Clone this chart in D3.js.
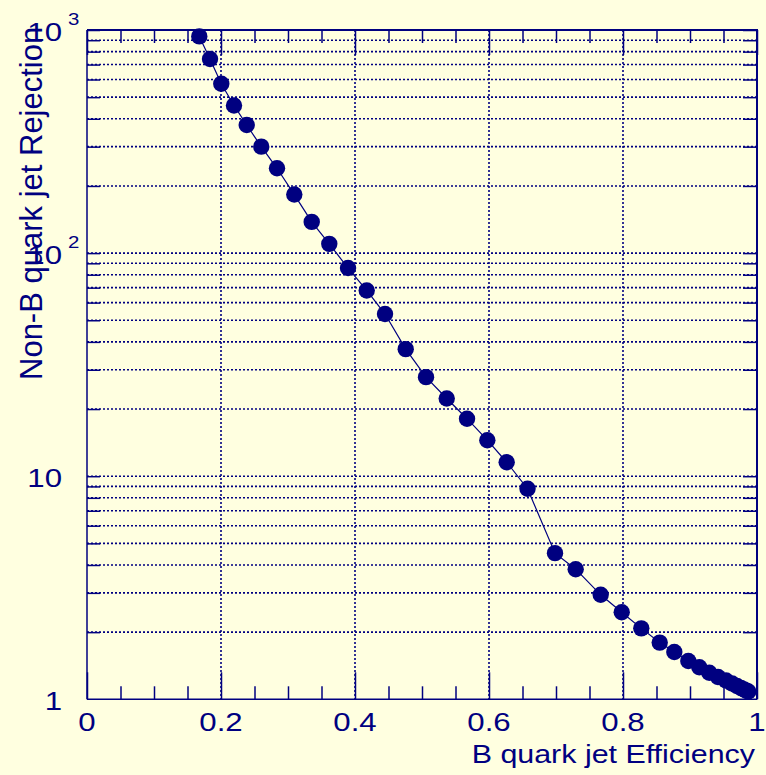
<!DOCTYPE html>
<html>
<head>
<meta charset="utf-8">
<script src="https://cdn.jsdelivr.net/npm/d3@7"></script>
<style>
  html, body { margin: 0; padding: 0; background: #ffffe0; }
  svg { display: block; }
  text { font-family: "Liberation Sans", Arial, Helvetica, sans-serif; fill: #000080; }
</style>
</head>
<body>
<svg id="chart" width="766" height="775"></svg>
<script>
// ---- data ----
const efficiency = [0.1676, 0.1836, 0.2004, 0.2194, 0.2384, 0.2601, 0.2836, 0.3094, 0.3354, 0.3616,
  0.3896, 0.4175, 0.4448, 0.4757, 0.5060, 0.5369, 0.5672, 0.5975, 0.6264, 0.6575,
  0.6985, 0.7294, 0.7667, 0.7981, 0.8273, 0.8548, 0.8766, 0.8975, 0.9139, 0.9288,
  0.9418, 0.9537, 0.9627, 0.9700, 0.9760, 0.9806, 0.9843, 0.9870];
const rejection = [936, 741, 574, 459, 375, 300, 240, 183, 138, 110,
  85.7, 68, 53.3, 37.1, 27.8, 22.3, 18.1, 14.5, 11.55, 8.79,
  4.52, 3.83, 2.94, 2.455, 2.08, 1.795, 1.63, 1.485, 1.392, 1.316,
  1.259, 1.214, 1.177, 1.147, 1.124, 1.106, 1.093, 1.084];
const xMajorTicks = [0, 0.2, 0.4, 0.6, 0.8, 1];
const xTickLabels = ["0", "0.2", "0.4", "0.6", "0.8", "1"];
const yMajorTicks = [1, 10, 100, 1000];
const yTickBase = ["1", "10", "10", "10"];
const yTickExp = ["", "", "2", "3"];
const xTitle = "B quark jet Efficiency";
const yTitle = "Non-B quark jet Rejection";

// ---- layout ----
const col = "#000080";
const L = 87, R = 757, T = 30, B = 699.3;
const svg = d3.select("#chart");
svg.append("rect").attr("width", 766).attr("height", 775).attr("fill", "#ffffe0");

const x = d3.scaleLinear().domain([0, 1]).range([L, R]);
const y = d3.scaleLog().domain([1, 1000]).range([B, T]);

const xMinor = d3.range(0, 21).map(i => i * 0.05).filter(v => !xMajorTicks.some(m => Math.abs(m - v) < 1e-9));
const yMinor = [];
[1, 10, 100].forEach(d => { for (let k = 2; k <= 9; k++) yMinor.push(d * k); });
const yAllTicks = yMinor.concat([10, 100]);

// grid (dotted)
const grid = svg.append("g").attr("stroke", col).attr("stroke-width", 1.6).attr("stroke-dasharray", "2,2");
grid.selectAll("line.gx").data([0.2, 0.4, 0.6, 0.8]).join("line")
  .attr("x1", d => x(d)).attr("x2", d => x(d)).attr("y1", T).attr("y2", B);
grid.selectAll("line.gy").data(yAllTicks).join("line")
  .attr("x1", L).attr("x2", R).attr("y1", d => y(d)).attr("y2", d => y(d));

// axes with inward ticks
function styleAxis(g) {
  g.select(".domain").remove();
  g.selectAll(".tick line").attr("stroke", col).attr("stroke-width", 1.5);
  g.selectAll(".tick text").remove();
}
svg.append("g").attr("transform", `translate(0,${B})`)
  .call(d3.axisBottom(x).tickValues(xMinor).tickSize(-13).tickFormat("")).call(styleAxis);
svg.append("g").attr("transform", `translate(0,${B})`)
  .call(d3.axisBottom(x).tickValues(xMajorTicks).tickSize(-27).tickFormat("")).call(styleAxis);
svg.append("g").attr("transform", `translate(0,${T})`)
  .call(d3.axisTop(x).tickValues(xMinor).tickSize(-13).tickFormat("")).call(styleAxis);
svg.append("g").attr("transform", `translate(0,${T})`)
  .call(d3.axisTop(x).tickValues(xMajorTicks).tickSize(-25).tickFormat("")).call(styleAxis);
svg.append("g").attr("transform", `translate(${L},0)`)
  .call(d3.axisLeft(y).tickValues(yAllTicks.concat([1000])).tickSize(-13).tickFormat("")).call(styleAxis);
svg.append("g").attr("transform", `translate(${R},0)`)
  .call(d3.axisRight(y).tickValues(yAllTicks.concat([1000])).tickSize(-14).tickFormat("")).call(styleAxis);

// frame
const frame = svg.append("g").attr("stroke", col).attr("fill", "none");
frame.append("line").attr("x1", L).attr("x2", L).attr("y1", T).attr("y2", B).attr("stroke-width", 1.5);
frame.append("line").attr("x1", L).attr("x2", R).attr("y1", B).attr("y2", B).attr("stroke-width", 1.5);
frame.append("line").attr("x1", L).attr("x2", R + 1).attr("y1", T).attr("y2", T).attr("stroke-width", 2);
frame.append("line").attr("x1", R).attr("x2", R).attr("y1", T).attr("y2", B).attr("stroke-width", 2);

// stretched text helper
function stext(px, py, str, size, anchor, sx) {
  const g = svg.append("g").attr("transform", `translate(${px},${py}) scale(${sx},1)`);
  g.append("text").attr("x", 0).attr("y", 0).attr("text-anchor", anchor)
    .attr("font-size", size).text(str);
  return g;
}

// x tick labels
xMajorTicks.forEach((v, i) => stext(x(v), 731, xTickLabels[i], 26, "middle", 1.2));
// y tick labels
yMajorTicks.forEach((v, i) => {
  stext(62, y(v) + 11, yTickBase[i], 26, "end", 1.2);
  if (yTickExp[i]) stext(68, y(v) - 5, yTickExp[i], 17, "start", 1.2);
});

// titles
stext(755, 763, xTitle, 26, "end", 1.17);
svg.append("text").attr("transform", `translate(42,380) rotate(-90)`)
  .attr("text-anchor", "start").attr("font-size", 31).text(yTitle);

// curve
const pts = efficiency.map((e, i) => [e, rejection[i]]);
svg.append("path").datum(pts)
  .attr("fill", "none").attr("stroke", col).attr("stroke-width", 1.2)
  .attr("d", d3.line().x(d => x(d[0])).y(d => y(d[1])));
svg.append("g").selectAll("circle").data(pts).join("circle")
  .attr("cx", d => x(d[0])).attr("cy", d => y(d[1])).attr("r", 8.2).attr("fill", col);
</script>
</body>
</html>
